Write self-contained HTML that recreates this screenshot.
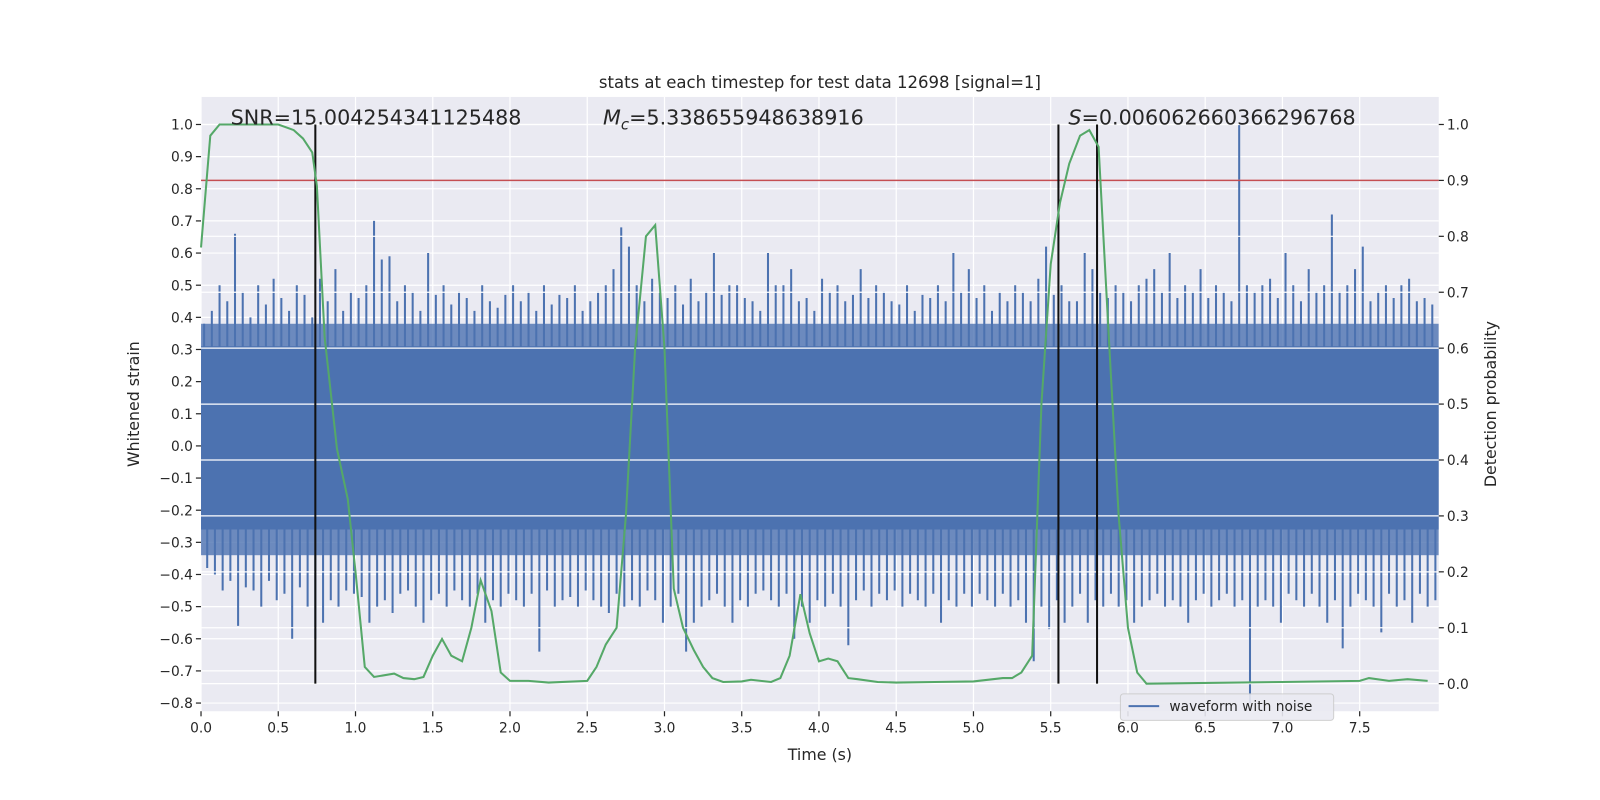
<!DOCTYPE html>
<html><head><meta charset="utf-8"><style>
html,body{margin:0;padding:0;background:#fff;}
svg{display:block;font-family:"DejaVu Sans","Liberation Sans",sans-serif;}
</style></head><body>
<svg id="chart" width="1600" height="800" xmlns="http://www.w3.org/2000/svg"><defs><clipPath id="pc"><rect x="197" y="95" width="1213" height="602"/></clipPath></defs><g id="root" transform="scale(1.0204)"></g></svg>
<script>
const xTicks=[0.0,0.5,1.0,1.5,2.0,2.5,3.0,3.5,4.0,4.5,5.0,5.5,6.0,6.5,7.0,7.5];
const yLeftTicks=[-0.8,-0.7,-0.6,-0.5,-0.4,-0.3,-0.2,-0.1,0.0,0.1,0.2,0.3,0.4,0.5,0.6,0.7,0.8,0.9,1.0];
const yRightTicks=[0.0,0.1,0.2,0.3,0.4,0.5,0.6,0.7,0.8,0.9,1.0];
const spikeTops=[.38,.42,.5,.45,.66,.48,.4,.5,.44,.52,.46,.42,.5,.47,.4,.52,.45,.55,.42,.48,
.46,.5,.7,.58,.59,.45,.5,.48,.42,.6,.47,.5,.44,.48,.46,.42,.5,.45,.43,.47,
.5,.45,.48,.42,.5,.44,.47,.46,.5,.42,.45,.48,.5,.55,.68,.62,.5,.45,.52,.48,
.46,.5,.44,.52,.45,.48,.6,.47,.5,.5,.46,.45,.42,.6,.5,.5,.55,.45,.46,.42,
.52,.48,.5,.45,.47,.55,.46,.5,.48,.45,.44,.5,.42,.47,.46,.5,.45,.6,.48,.55,
.46,.5,.42,.48,.45,.5,.48,.45,.52,.62,.47,.5,.45,.45,.6,.55,.48,.46,.5,.48,
.45,.5,.52,.55,.48,.6,.46,.5,.48,.55,.46,.5,.48,.45,1.0,.5,.48,.5,.52,.46,
.6,.5,.45,.55,.48,.5,.72,.48,.5,.55,.62,.45,.48,.5,.46,.5,.52,.45,.46,.44];
const spikeBottoms=[-.38,-.4,-.45,-.42,-.56,-.44,-.45,-.5,-.42,-.48,-.46,-.6,-.44,-.5,-.6,-.55,-.48,-.5,-.45,-.46,
-.47,-.55,-.5,-.48,-.52,-.46,-.45,-.5,-.55,-.48,-.46,-.5,-.45,-.48,-.5,-.46,-.55,-.48,-.5,-.46,
-.48,-.5,-.46,-.64,-.45,-.5,-.48,-.47,-.5,-.45,-.48,-.5,-.52,-.46,-.5,-.48,-.5,-.45,-.48,-.55,
-.5,-.46,-.64,-.55,-.5,-.48,-.46,-.5,-.55,-.48,-.5,-.46,-.45,-.48,-.5,-.46,-.6,-.5,-.55,-.48,
-.5,-.46,-.5,-.62,-.48,-.45,-.5,-.46,-.48,-.45,-.5,-.46,-.48,-.5,-.46,-.55,-.48,-.5,-.46,-.5,
-.46,-.48,-.5,-.46,-.5,-.48,-.55,-.67,-.5,-.57,-.48,-.55,-.5,-.46,-.55,-.48,-.5,-.46,-.5,-.48,
-.55,-.5,-.48,-.46,-.5,-.48,-.5,-.55,-.48,-.46,-.5,-.48,-.46,-.5,-.48,-.8,-.5,-.48,-.5,-.55,
-.46,-.48,-.5,-.46,-.5,-.55,-.48,-.63,-.5,-.46,-.48,-.5,-.58,-.46,-.5,-.48,-.55,-.46,-.5,-.48];
const spikeStep=0.05;
const probT=[0,0.06,0.12,0.25,0.5,0.6,0.66,0.72,0.75,0.8,0.88,0.95,1.0,1.06,1.12,1.25,1.31,1.38,1.44,1.5,1.56,1.62,1.69,1.75,1.81,1.88,1.94,2.0,2.12,2.25,2.5,2.56,2.62,2.69,2.75,2.81,2.88,2.94,3.0,3.06,3.12,3.19,3.25,3.31,3.38,3.5,3.56,3.69,3.75,3.81,3.88,3.94,4.0,4.06,4.12,4.19,4.25,4.38,4.5,4.75,5.0,5.19,5.25,5.31,5.38,5.44,5.5,5.56,5.62,5.69,5.75,5.81,5.88,5.94,6.0,6.06,6.12,7.0,7.5,7.56,7.69,7.81,7.94];
const probV=[0.78,0.98,1.0,1.0,1.0,0.99,0.975,0.95,0.89,0.62,0.42,0.33,0.2,0.03,0.012,0.018,0.01,0.008,0.012,0.05,0.08,0.05,0.04,0.1,0.185,0.13,0.02,0.005,0.005,0.002,0.005,0.03,0.07,0.1,0.3,0.6,0.8,0.82,0.6,0.17,0.1,0.06,0.03,0.01,0.003,0.004,0.007,0.003,0.01,0.05,0.16,0.09,0.04,0.045,0.04,0.01,0.008,0.003,0.002,0.003,0.004,0.01,0.01,0.02,0.05,0.5,0.75,0.86,0.93,0.98,0.99,0.96,0.6,0.3,0.1,0.02,0.0,0.003,0.005,0.01,0.005,0.008,0.005];
const markerTimes=[0.74,5.55,5.80];
const threshold=0.9;

const L=197,R=1410,T=95,B=697;
const X=t=>L+151.4*t;
const YL=v=>437-315*v;
const YR=v=>670-548*v;
const fmt=v=>(v<0?'\u2212':'')+Math.abs(v).toFixed(1);
const svg=document.getElementById('root');
const NS='http://www.w3.org/2000/svg';
function mk(tag,attrs,parent){const e=document.createElementNS(NS,tag);for(const k in attrs)e.setAttribute(k,attrs[k]);(parent||svg).appendChild(e);return e;}
function txt(s,attrs,parent){const e=mk('text',attrs,parent);e.textContent=s;return e;}

const bg=mk('rect',{x:L,y:T,width:R-L,height:B-T,fill:'#eaeaf2'});

const grid=mk('g',{stroke:'#fff','stroke-width':1.2});

xTicks.forEach(t=>mk('line',{x1:X(t),x2:X(t),y1:T,y2:B},grid));
yLeftTicks.forEach(v=>mk('line',{x1:L,x2:R,y1:YL(v),y2:YL(v)},grid));

const wave=mk('g',{stroke:'#4c72b0','stroke-width':2,'clip-path':'url(#pc)'});

mk('rect',{x:L,y:YL(0.38),width:R-L,height:YL(-0.34)-YL(0.38),fill:'#4c72b0',opacity:0.8,stroke:'none'},wave);
mk('rect',{x:L,y:YL(0.31),width:R-L,height:YL(-0.26)-YL(0.31),fill:'#4c72b0',stroke:'none'},wave);
spikeTops.forEach((v,i)=>{const t=i*spikeStep+0.02;mk('line',{x1:X(t),x2:X(t),y1:YL(0),y2:YL(v)},wave);});
spikeBottoms.forEach((v,i)=>{const t=i*spikeStep+0.04;mk('line',{x1:X(t),x2:X(t),y1:YL(0),y2:YL(v)},wave);});

const grid2=mk('g',{stroke:'#fff','stroke-width':1.2});

yRightTicks.forEach(v=>mk('line',{x1:L,x2:R,y1:YR(v),y2:YR(v)},grid2));

const th=mk('line',{x1:L,x2:R,y1:YR(threshold),y2:YR(threshold),stroke:'#c44e52','stroke-width':1.5});


markerTimes.forEach((t,i)=>{const l=mk('line',{x1:X(t),x2:X(t),y1:YR(1.0),y2:YR(0),stroke:'#111','stroke-width':2});
});

const pts=probT.map((t,i)=>X(t)+','+YR(probV[i])).join(' ');
const pl=mk('polyline',{points:pts,fill:'none',stroke:'#55a868','stroke-width':2});


const ax=mk('g',{fill:'#262626','font-size':13.5});

xTicks.forEach(t=>{mk('line',{x1:X(t),x2:X(t),y1:B,y2:B+5,stroke:'#262626','stroke-width':1.2},ax);txt(fmt(t),{x:X(t),y:B+21,'text-anchor':'middle'},ax);});
yLeftTicks.forEach(v=>{mk('line',{x1:L-5,x2:L,y1:YL(v),y2:YL(v),stroke:'#262626','stroke-width':1.2},ax);txt(fmt(v),{x:L-8,y:YL(v)+5,'text-anchor':'end'},ax);});
yRightTicks.forEach(v=>{mk('line',{x1:R,x2:R+5,y1:YR(v),y2:YR(v),stroke:'#262626','stroke-width':1.2},ax);txt(fmt(v),{x:R+8,y:YR(v)+5},ax);});

const tt=txt('stats at each timestep for test data 12698 [signal=1]',{x:(L+R)/2,y:86,'text-anchor':'middle','font-size':16.2,fill:'#262626'});

const xl=txt('Time (s)',{x:(L+R)/2,y:745,'text-anchor':'middle','font-size':15.5,fill:'#262626'});

const yl=txt('Whitened strain',{x:136,y:396,'text-anchor':'middle','font-size':15.5,fill:'#262626',transform:'rotate(-90 136 396)'});

const yr=txt('Detection probability',{x:1466,y:396,'text-anchor':'middle','font-size':15.5,fill:'#262626',transform:'rotate(-90 1466 396)'});


const a1=txt('SNR=15.004254341125488',{x:226,y:122,'font-size':20.3,fill:'#262626'});

const a2=mk('text',{x:591,y:122,'font-size':20.3,fill:'#262626'});
a2.innerHTML='<tspan font-style="italic">M</tspan><tspan font-style="italic" font-size="14.5" dy="5">c</tspan><tspan dy="-5">=5.338655948638916</tspan>';

const a3=mk('text',{x:1047,y:122,'font-size':20.3,fill:'#262626'});
a3.innerHTML='<tspan font-style="italic">S</tspan>=0.006062660366296768';


const lg=mk('g',{});

mk('rect',{x:1098,y:680,width:209,height:26,rx:3,fill:'#eaeaf2',stroke:'#ccc','stroke-width':1,opacity:0.9},lg);
mk('line',{x1:1106,x2:1136,y1:692,y2:692,stroke:'#4c72b0','stroke-width':2},lg);
txt('waveform with noise',{x:1146,y:697,'font-size':13.5,fill:'#262626'},lg);
</script>
</body></html>
